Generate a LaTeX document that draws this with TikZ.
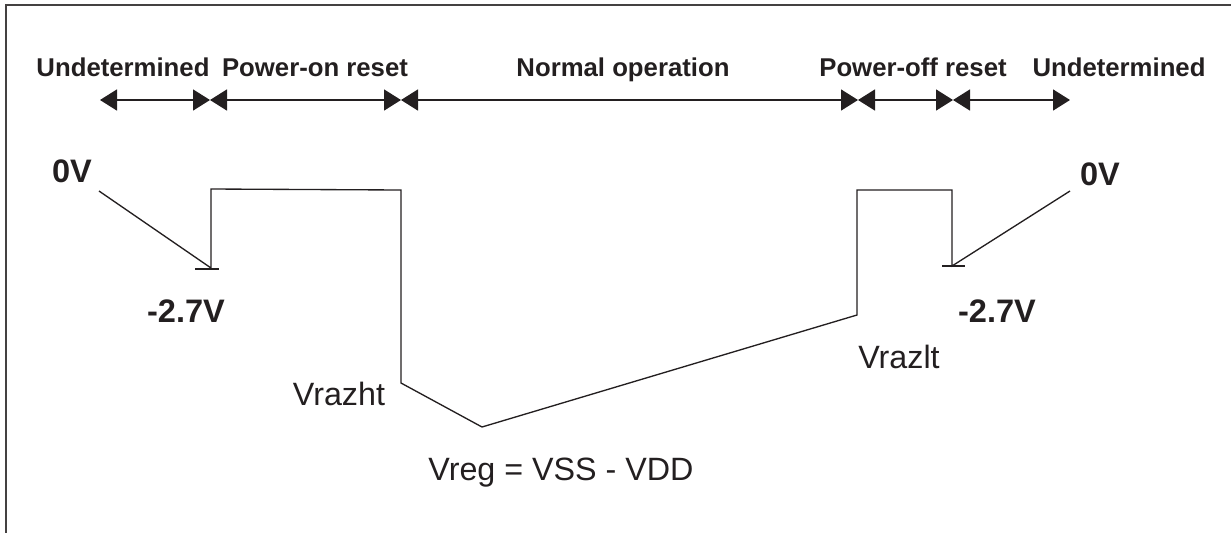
\documentclass[tikz,border=0pt]{standalone}
\usepackage{fontspec}
\setmainfont{Liberation Sans}
\usetikzlibrary{arrows.meta}
\definecolor{ink}{HTML}{231F20}
\begin{document}
\begin{tikzpicture}[x=0.75pt,y=-0.75pt,
  frame/.style={draw=ink!85,line width=1.6pt},
  span/.style={draw=ink,line width=1.2pt,{Triangle[length=12.75pt,width=15.75pt]}-{Triangle[length=12.75pt,width=15.75pt]}},
  wave/.style={draw=ink,line width=1pt,line join=miter},
  tick/.style={draw=ink,line width=1.6pt},
  hdr/.style={inner sep=0pt,anchor=base,text=ink,font=\bfseries\fontsize{19.3}{23}\selectfont},
  volt/.style={inner sep=0pt,anchor=base,text=ink,font=\bfseries\fontsize{24.4}{29}\selectfont},
  lbl/.style={inner sep=0pt,anchor=base,text=ink,font=\fontsize{24.2}{29}\selectfont}]
\useasboundingbox (0,0) rectangle (1231,533);
% frame (top and left only)
\draw[frame] (1231,5) -- (6,5) -- (6,533);
% span arrows
\coordinate (s0) at (100,100);
\coordinate (s1) at (210,100);
\coordinate (s2) at (401,100);
\coordinate (s3) at (858,100);
\coordinate (s4) at (953,100);
\coordinate (s5) at (1070,100);
\draw[span] (s0) -- (s1);
\draw[span] (s1) -- (s2);
\draw[span] (s2) -- (s3);
\draw[span] (s3) -- (s4);
\draw[span] (s4) -- (s5);
% headers
\node[hdr] (h1) at (123,76) {Undetermined};
\node[hdr] (h2) at (315,76) {Power-on reset};
\node[hdr] (h3) at (623,76) {Normal operation};
\node[hdr] (h4) at (913,76) {Power-off reset};
\node[hdr] (h5) at (1119,76) {Undetermined};
% waveform
\coordinate (a0) at (99,191);
\coordinate (a1) at (211,268);
\coordinate (a2) at (211,189);
\coordinate (a3) at (401,190);
\coordinate (a4) at (401,383);
\coordinate (a5) at (482,427);
\coordinate (a6) at (857,315);
\coordinate (a7) at (857,190);
\coordinate (a8) at (952,190);
\coordinate (a9) at (952,266);
\coordinate (a10) at (1070,191);
\draw[wave] (a0) -- (a1) -- (a2) -- (a3) -- (a4) -- (a5) -- (a6) -- (a7) -- (a8) -- (a9) -- (a10);
\coordinate (t1a) at (195,269);
\coordinate (t1b) at (219,269);
\coordinate (t2a) at (942,266);
\coordinate (t2b) at (965,266);
\draw[tick] (t1a) -- (t1b);
\draw[tick] (t2a) -- (t2b);
% voltage labels
\node[volt] (v0l) at (72,182) {0V};
\node[volt] (v0r) at (1100,185) {0V};
\node[volt] (v27l) at (186,322) {-2.7V};
\node[volt] (v27r) at (997,322) {-2.7V};
\node[lbl] (vh) at (339,405) {Vrazht};
\node[lbl] (vl) at (899,368) {Vrazlt};
\node[lbl] (vr) at (561,480) {Vreg = VSS - VDD};
\end{tikzpicture}
\end{document}
